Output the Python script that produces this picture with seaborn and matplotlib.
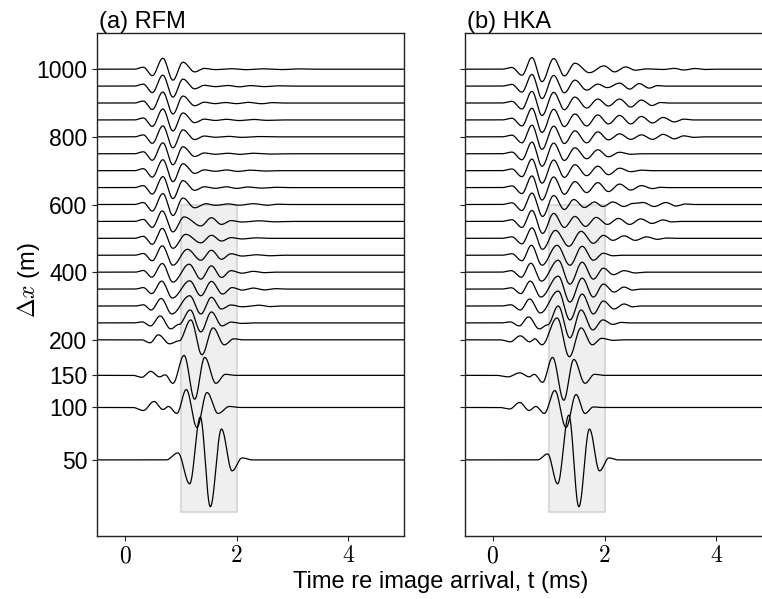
import numpy as np
import pandas as pd
import matplotlib
matplotlib.use("Agg")
import matplotlib.pyplot as plt
from matplotlib.patches import Rectangle
import seaborn as sns

# ---------------- data ----------------
offsets = [50, 100, 150, 200, 250, 300, 350, 400, 450, 500, 550, 600,
           650, 700, 750, 800, 850, 900, 950, 1000]
# vertical display position of each trace baseline (axis units)
trace_pos = [-155, 0, 95, 200, 250, 300, 350, 400, 450, 500, 550, 600,
             650, 700, 750, 800, 850, 900, 950, 1000]
ytick_offsets = [50, 100, 150, 200, 400, 600, 800, 1000]
xtick_values = [0, 2, 4]
window_t = [1.0, 2.0]          # shaded analysis window (ms)
window_pos = [-310, 600]       # its vertical extent (axis units)
panel_titles = ["(a) RFM", "(b) HKA"]
amp_unit = 50.0 / 17.0         # axis units per pixel of wiggle amplitude

# waveform extrema per trace: (time ms, amplitude px, + = up)
rfm_far = [(0.33, 2), (0.49, -6.5), (0.68, 11), (0.86, -11), (1.04, 7), (1.25, -2.7), (1.42, 0.8)]
rfm = {
    1000: rfm_far + [(1.62, -0.4), (1.9, 0.5), (2.15, -0.5), (2.45, 0.4), (2.8, -0.4), (3.1, 0.3)],
    950: rfm_far + [(1.62, -0.5), (1.85, 0.6), (2.05, -0.7), (2.25, 0.5), (2.5, -0.5), (2.75, 0.3)],
    900: rfm_far + [(1.62, -0.6), (1.8, 0.5), (2.0, -0.6), (2.2, 0.7), (2.45, -0.7), (2.65, 0.4)],
    850: rfm_far + [(1.62, -0.5), (1.82, 0.6), (2.05, -0.6), (2.3, 0.5), (2.55, -0.4)],
    800: rfm_far + [(1.62, -0.4), (1.85, 0.5), (2.1, -0.5), (2.4, 0.3)],
    750: rfm_far + [(1.62, -0.5), (1.85, 0.5), (2.05, -0.6), (2.3, 0.5), (2.6, -0.3)],
    700: rfm_far + [(1.62, -0.6), (1.82, 0.7), (2.02, -0.7), (2.25, 0.5), (2.5, -0.4)],
    650: rfm_far + [(1.62, -0.7), (1.82, 0.8), (2.0, -0.8), (2.2, 0.6), (2.45, -0.5), (2.7, 0.3)],
    600: [(0.33, 2), (0.49, -6.5), (0.68, 11), (0.86, -11), (1.04, 6.5), (1.25, -3.3), (1.45, 0.8),
          (1.62, -0.8), (1.85, 0.6), (2.05, -0.7), (2.3, 0.8), (2.55, -0.7), (2.75, 0.3)],
    550: [(0.33, 2), (0.49, -6), (0.67, 10.5), (0.86, -10.5), (1.06, 4.5), (1.36, -4.5), (1.55, 3.7),
          (1.73, -3), (1.9, 0.8), (2.1, -0.6), (2.4, 0.6), (2.7, -0.4)],
    500: [(0.33, 2), (0.49, -6), (0.67, 10), (0.86, -10), (1.09, 4), (1.36, -4.5), (1.55, 3),
          (1.73, -2.7), (1.9, 0.7), (2.1, -0.6), (2.35, 0.5)],
    450: [(0.33, 1.8), (0.49, -5.5), (0.67, 9.5), (0.86, -10), (1.12, 6), (1.36, -5), (1.55, 5),
          (1.73, -4), (1.9, 1.5), (2.1, -0.8), (2.35, 0.5), (2.6, -0.5)],
    400: [(0.33, 1.7), (0.48, -5), (0.67, 8.7), (0.86, -10), (1.15, 8), (1.36, -7), (1.55, 6.3),
          (1.73, -5.3), (1.9, 1.5), (2.1, -1), (2.3, 0.8), (2.5, -0.5)],
    350: [(0.33, 1.5), (0.48, -4.5), (0.66, 8), (0.85, -9), (1.16, 8.3), (1.36, -6.7), (1.55, 7.7),
          (1.75, -5), (1.92, 1.5), (2.1, -1), (2.3, 1), (2.5, -0.8), (2.7, 0.4)],
    300: [(0.33, 1.2), (0.47, -4), (0.65, 7.5), (0.84, -8), (1.16, 10.3), (1.36, -8), (1.55, 8.7),
          (1.73, -3), (1.9, 1), (2.1, -0.8), (2.4, 0.8), (2.6, -0.6)],
    250: [(0.31, 1), (0.46, -3), (0.63, 7), (0.82, -6), (0.97, -1.5), (1.17, 13), (1.36, -9),
          (1.55, 11), (1.74, -3), (1.9, 0.8), (2.1, -0.5)],
    200: [(0.45, -3), (0.60, 5), (0.80, -4), (0.97, -1), (1.18, 20), (1.38, -15), (1.58, 12),
          (1.78, -5), (1.95, 1)],
    150: [(0.30, -2), (0.46, 4), (0.62, -1.5), (0.72, 0.5), (0.86, -8), (1.06, 20), (1.25, -24),
          (1.43, 18), (1.63, -8), (1.8, 1)],
    100: [(0.33, -3), (0.52, 6), (0.68, -2), (0.78, 1), (0.93, -6), (1.10, 18), (1.29, -20),
          (1.47, 15), (1.67, -6), (1.87, 1)],
    50: [(0.95, 7), (1.16, -24), (1.35, 43), (1.53, -47), (1.73, 31), (1.92, -11), (2.10, 2)],
}

hka_far = [(0.34, 1.7), (0.52, -6), (0.70, 11.7), (0.88, -12.5), (1.09, 10.7), (1.28, -6.7), (1.47, 6)]
hka = {
    1000: hka_far + [(1.73, -3.5), (1.99, 3.3), (2.18, -2.7), (2.38, 2.3), (2.55, -1), (2.75, 0.3),
                     (3.05, -0.3), (3.25, 0.8), (3.42, -0.8), (3.62, 0.7), (3.8, -0.3)],
    950: hka_far + [(1.68, -4), (1.88, 2), (2.05, -1.5), (2.27, 3), (2.45, -3), (2.62, 2.5),
                    (2.8, -2), (2.95, 0.5)],
    900: hka_far + [(1.68, -5), (1.88, 4), (2.07, -3), (2.27, 4), (2.47, -4), (2.66, 3),
                    (2.85, -2.5), (3.0, 0.5)],
    850: hka_far + [(1.68, -6), (1.88, 5), (2.07, -4), (2.27, 4.5), (2.47, -4), (2.66, 3.5),
                    (2.86, -3), (3.05, 2.5), (3.25, -2), (3.42, 0.8)],
    800: hka_far + [(1.68, -6), (1.88, 5), (2.07, -3), (2.27, 3), (2.47, -2.5), (2.66, 2),
                    (2.86, -2.5), (3.05, 2.5), (3.25, -2), (3.42, 1), (3.6, -0.5)],
    750: hka_far + [(1.68, -5), (1.88, 4), (2.07, -3), (2.27, 1.5), (2.47, -0.5)],
    700: hka_far + [(1.68, -5), (1.88, 4.5), (2.07, -4), (2.27, 2.5), (2.47, -1), (2.66, 0.5)],
    650: hka_far + [(1.68, -5), (1.88, 5), (2.07, -4), (2.27, 3.5), (2.47, -2.5), (2.66, 2),
                    (2.86, -1), (3.0, 0.3)],
    600: [(0.34, 1.7), (0.52, -6), (0.70, 11.5), (0.89, -12), (1.09, 9), (1.28, -5), (1.45, 5),
          (1.64, -3), (1.82, 2.5), (1.97, -2), (2.15, 2.5), (2.35, -2), (2.5, 1), (2.69, 2),
          (2.89, -2), (3.1, 2), (3.28, -1.5), (3.45, 0.5)],
    550: [(0.34, 1.7), (0.52, -6), (0.70, 11), (0.89, -12), (1.09, 8), (1.28, -6), (1.47, 5),
          (1.66, -5), (1.85, 4), (2.05, -3), (2.25, 3), (2.45, -3), (2.65, 2.5), (2.85, -2),
          (3.05, 1.5), (3.2, -0.5)],
    500: [(0.34, 1.5), (0.52, -5.5), (0.70, 10.5), (0.89, -11), (1.12, 8), (1.36, -8), (1.58, 7),
          (1.8, -5), (1.98, 3), (2.15, -2), (2.35, 2.5), (2.55, -2), (2.75, 1.5), (2.95, -1),
          (3.1, 0.3)],
    450: [(0.34, 1.5), (0.52, -5.5), (0.69, 10), (0.88, -10), (1.15, 10), (1.38, -10), (1.6, 9),
          (1.8, -5), (1.98, 2), (2.15, -0.5)],
    400: [(0.33, 1.5), (0.51, -5), (0.68, 9), (0.87, -9), (1.17, 12), (1.38, -12), (1.6, 10),
          (1.8, -7), (1.98, 4), (2.16, -2.5), (2.35, 1.5), (2.55, -0.8)],
    350: [(0.33, 1.3), (0.5, -4.5), (0.67, 8), (0.86, -8), (1.17, 13), (1.38, -13), (1.6, 11),
          (1.8, -8), (1.98, 5), (2.17, -3), (2.35, 2), (2.5, -1)],
    300: [(0.32, 1.2), (0.49, -4), (0.66, 7), (0.85, -7), (1.17, 15), (1.38, -14), (1.6, 12),
          (1.8, -8), (1.98, 5), (2.17, -3), (2.35, 2), (2.5, -0.8)],
    250: [(0.31, 1), (0.47, -3), (0.64, 6), (0.83, -6), (0.98, -2), (1.17, 17), (1.38, -15),
          (1.58, 13), (1.79, -7), (1.97, 3), (2.15, -1.5), (2.3, 0.5)],
    200: [(0.31, -2), (0.49, 4), (0.66, -2), (0.75, 1), (0.88, -5), (1.15, 22), (1.37, -17),
          (1.58, 12), (1.78, -5), (1.95, 1.5), (2.15, -0.5)],
    150: [(0.27, -1.5), (0.48, 2.5), (0.65, -1.5), (0.74, 1), (0.89, -7), (1.07, 18), (1.27, -25),
          (1.45, 16), (1.65, -8), (1.82, 1)],
    100: [(0.30, -1.5), (0.48, 5), (0.65, -3), (0.77, 1), (0.92, -6), (1.11, 17), (1.31, -20),
          (1.49, 13), (1.65, -6), (1.8, 0.5)],
    50: [(0.98, 6), (1.16, -24), (1.36, 45), (1.54, -47), (1.73, 31), (1.91, -11), (2.08, 2)],
}


# ---------------- rendering helpers ----------------
def wiggle(ext, t):
    """Smooth curve through the read extrema (half-cosine between them)."""
    ts = np.array([e[0] for e in ext], float)
    am = np.array([e[1] for e in ext], float)
    y = np.zeros_like(t)
    d0 = ts[1] - ts[0]
    m = (t >= ts[0] - d0) & (t < ts[0])
    y[m] = am[0] * (1 - np.cos(np.pi * (t[m] - (ts[0] - d0)) / d0)) / 2
    for i in range(len(ts) - 1):
        m = (t >= ts[i]) & (t < ts[i + 1])
        ph = np.pi * (t[m] - ts[i]) / (ts[i + 1] - ts[i])
        y[m] = (am[i] + am[i + 1]) / 2 + (am[i] - am[i + 1]) / 2 * np.cos(ph)
    d1 = ts[-1] - ts[-2]
    m = (t >= ts[-1]) & (t < ts[-1] + d1)
    y[m] = am[-1] * (1 + np.cos(np.pi * (t[m] - ts[-1]) / d1)) / 2
    return y


tgrid = np.linspace(-0.5, 5.0, 1401)
pos_of = dict(zip(offsets, trace_pos))


def frame(traces):
    rows = []
    for off in offsets:
        yy = pos_of[off] + amp_unit * wiggle(traces[off], tgrid)
        rows.append(pd.DataFrame({"offset": off, "t": tgrid, "y": yy}))
    return pd.concat(rows, ignore_index=True)


# ---------------- figure ----------------
sns.set_style("ticks")
plt.rcParams["font.family"] = ["Liberation Sans", "DejaVu Sans"]
plt.rcParams["mathtext.fontset"] = "cm"
for key in ["text.color", "axes.labelcolor", "xtick.color", "ytick.color"]:
    plt.rcParams[key] = "black"

fig = plt.figure(figsize=(7.62, 5.99), dpi=100)
axes = [fig.add_axes([0.1273, 0.1057, 0.4029, 0.8392]),
        fig.add_axes([0.6102, 0.1057, 0.4029, 0.8392])]

for ax, traces, title in zip(axes, [rfm, hka], panel_titles):
    ax.add_patch(Rectangle((window_t[0], window_pos[0]), window_t[1] - window_t[0],
                           window_pos[1] - window_pos[0], facecolor="#efefef",
                           edgecolor="#d4d4d4", lw=1.2, zorder=0))
    df = frame(traces)
    sns.lineplot(data=df, x="t", y="y", units="offset", estimator=None, sort=False,
                 color="black", lw=0.9, ax=ax, legend=False)
    ax.set_xlim(-0.5, 5.0)
    ax.set_ylim(-379, 1107)
    ax.set_xticks(xtick_values)
    ax.set_xticklabels([f"${v}$" for v in xtick_values], fontsize=17, color="black")
    ax.set_yticks([pos_of[o] for o in ytick_offsets])
    ax.set_xlabel("")
    ax.set_ylabel("")
    ax.tick_params(direction="out", length=3.5, width=0.8, color="#222222",
                   labelcolor="black")
    for s in ax.spines.values():
        s.set_visible(True)
        s.set_color("#222222")
        s.set_linewidth(1.0)
    ax.text(0.008, 1.0, title, transform=ax.transAxes, ha="left", va="bottom",
            fontsize=17, color="black")

axes[0].set_yticklabels([str(o) for o in ytick_offsets], fontsize=16.5, color="black")
axes[1].set_yticklabels([])

fig.text(441 / 762, 1 - 588 / 599, "Time re image arrival, t (ms)", ha="center",
         va="baseline", fontsize=17, color="black")
fig.text(28 / 762, 1 - 280 / 599, r"$\Delta x$ (m)", rotation=90, ha="center",
         va="center", fontsize=17, color="black")

fig.savefig("out.png", dpi=100)
